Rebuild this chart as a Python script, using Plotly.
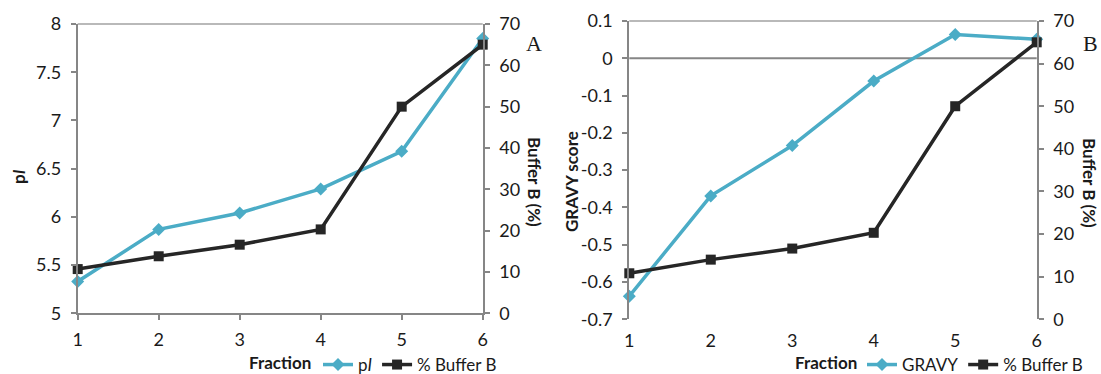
import plotly.graph_objects as go

# ---- data ----
fractions = [1, 2, 3, 4, 5, 6]
pI_values = [5.33, 5.87, 6.04, 6.29, 6.68, 7.85]
buffer_b_A = [10.7, 13.8, 16.6, 20.3, 50, 65]
gravy_values = [-0.638, -0.369, -0.234, -0.061, 0.064, 0.051]
buffer_b_B = [10.8, 14.0, 16.6, 20.3, 50, 65]

pI_ticks = [5, 5.5, 6, 6.5, 7, 7.5, 8]
pI_ticktext = ["5", "5.5", "6", "6.5", "7", "7.5", "8"]
gravy_ticks = [-0.7, -0.6, -0.5, -0.4, -0.3, -0.2, -0.1, 0, 0.1]
gravy_ticktext = ["-0.7", "-0.6", "-0.5", "-0.4", "-0.3", "-0.2", "-0.1", "0", "0.1"]
buffer_ticks = [0, 10, 20, 30, 40, 50, 60, 70]

# ---- styles ----
CYAN = "#4BACC6"
DARK = "#262626"
AXIS = "#868686"
BORDER = "#b9b9b9"
FONT = "Lato"
FS = 17
TFS = 18
TXT = "#1a1a1a"

W, H = 1101, 374
xA = [77.7 / W, 482.7 / W]
yA = [1 - 313.3 / H, 1 - 24 / H]
xB = [629.3 / W, 1036.7 / W]
yB = [1 - 319.3 / H, 1 - 21 / H]

fig = go.Figure()

# Panel A
fig.add_trace(go.Scatter(x=fractions, y=pI_values, name="p<i>I</i>", mode="lines+markers",
                         line=dict(color=CYAN, width=3.5),
                         marker=dict(symbol="diamond", size=10, color=CYAN),
                         xaxis="x", yaxis="y", legend="legend", cliponaxis=False))
fig.add_trace(go.Scatter(x=fractions, y=buffer_b_A, name="% Buffer B", mode="lines+markers",
                         line=dict(color=DARK, width=3.5),
                         marker=dict(symbol="square", size=10, color=DARK),
                         xaxis="x", yaxis="y2", legend="legend", cliponaxis=False))
# Panel B
fig.add_trace(go.Scatter(x=fractions, y=gravy_values, name="GRAVY", mode="lines+markers",
                         line=dict(color=CYAN, width=3.5),
                         marker=dict(symbol="diamond", size=10, color=CYAN),
                         xaxis="x2", yaxis="y3", legend="legend2", cliponaxis=False))
fig.add_trace(go.Scatter(x=fractions, y=buffer_b_B, name="% Buffer B", mode="lines+markers",
                         line=dict(color=DARK, width=3.5),
                         marker=dict(symbol="square", size=10, color=DARK),
                         xaxis="x2", yaxis="y4", legend="legend2", cliponaxis=False))

tickfont = dict(family=FONT, size=TFS, color=TXT)
common_y = dict(showgrid=False, zeroline=False, showline=True, linecolor=AXIS, linewidth=2,
                ticks="outside", ticklen=5, tickcolor=AXIS, tickwidth=2, tickfont=tickfont,
                ticklabelstandoff=6, automargin=False)

gmin, gmax = -0.7, 0.1
zero_pos = yB[0] + (0 - gmin) / (gmax - gmin) * (yB[1] - yB[0])

LEG_Y = 1 - 365 / H

fig.update_layout(
    width=W, height=H, autosize=False,
    margin=dict(l=0, r=0, t=0, b=0, pad=0, autoexpand=False),
    paper_bgcolor="white", plot_bgcolor="white",
    font=dict(family=FONT, size=FS, color=TXT),
    xaxis=dict(domain=xA, anchor="y", range=[1, 6], tickvals=fractions, showgrid=False,
               zeroline=False, showline=True, linecolor=AXIS, linewidth=2,
               ticks="outside", ticklen=5, tickcolor=AXIS, tickwidth=2, tickfont=tickfont,
               ticklabelstandoff=4, automargin=False),
    yaxis=dict(domain=yA, anchor="x", range=[5, 8], tickvals=pI_ticks, ticktext=pI_ticktext,
               **common_y),
    yaxis2=dict(overlaying="y", side="right", anchor="x", range=[0, 70], tickvals=buffer_ticks,
                **common_y),
    xaxis2=dict(domain=xB, anchor="y3", range=[1, 6], tickvals=fractions, showgrid=False,
                zeroline=False, showline=False, ticks="", tickfont=tickfont,
                ticklabelstandoff=9, automargin=False),
    xaxis3=dict(overlaying="x2", anchor="free", position=zero_pos, range=[1, 6],
                tickvals=fractions, showgrid=False, zeroline=False, showline=False,
                ticks="outside", ticklen=5, tickcolor=AXIS, tickwidth=2, showticklabels=False,
                automargin=False),
    yaxis3=dict(domain=yB, anchor="x2", range=[gmin, gmax], tickvals=gravy_ticks,
                ticktext=gravy_ticktext, **common_y),
    yaxis4=dict(overlaying="y3", side="right", anchor="x2", range=[0, 70], tickvals=buffer_ticks,
                **common_y),
    legend=dict(orientation="h", x=318 / W, xanchor="left", y=LEG_Y, yanchor="middle",
                bgcolor="rgba(0,0,0,0)", font=dict(family=FONT, size=FS, color=TXT),
                itemwidth=30, tracegroupgap=0),
    legend2=dict(orientation="h", x=862 / W, xanchor="left", y=LEG_Y, yanchor="middle",
                 bgcolor="rgba(0,0,0,0)", font=dict(family=FONT, size=FS, color=TXT),
                 itemwidth=30, tracegroupgap=0),
    showlegend=True,
)

# plot-area top borders and zero line
fig.add_shape(type="line", xref="x domain", yref="y domain", x0=0, x1=1, y0=1, y1=1,
              line=dict(color=BORDER, width=2), layer="below")
fig.add_shape(type="line", xref="x2 domain", yref="y3 domain", x0=0, x1=1, y0=1, y1=1,
              line=dict(color=BORDER, width=2), layer="below")
fig.add_shape(type="line", xref="x2 domain", yref="y3", x0=0, x1=1, y0=0, y1=0,
              line=dict(color=AXIS, width=2), layer="below")

# axis titles and panel labels
def ann(x, y, text, angle=0, size=FS, family=FONT):
    fig.add_annotation(x=x / W, y=1 - y / H, xref="paper", yref="paper", text=text,
                       showarrow=False, textangle=angle, xanchor="center", yanchor="middle",
                       font=dict(family=family, size=size, color=TXT))

ann(18, 177, "<b>p<i>I</i></b>", angle=-90)
ann(534, 182, "<b>Buffer B (%)</b>", angle=90)
ann(280, 362, "<b>Fraction</b>")
ann(534, 43, "A", size=22, family="Liberation Serif")

ann(572, 182, "<b>GRAVY score</b>", angle=-90)
ann(1089, 183, "<b>Buffer B (%)</b>", angle=90)
ann(826, 362, "<b>Fraction</b>")
ann(1090, 43, "B", size=22, family="Liberation Serif")

fig.write_html("out.html", config={"displayModeBar": False},
               post_script="document.body.style.margin='0';document.body.style.padding='0';")
